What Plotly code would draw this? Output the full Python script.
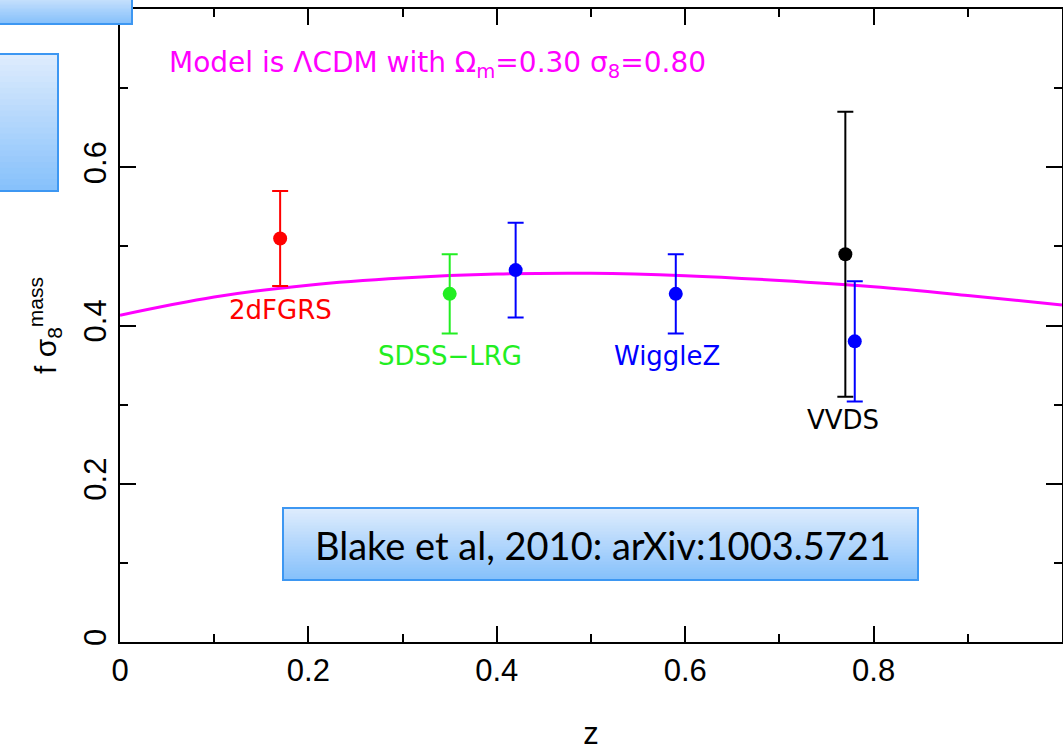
import plotly.graph_objects as go

# Growth-rate measurements f*sigma8 vs redshift
tdf_z = [0.17]
tdf_fs8 = [0.51]
tdf_err = [0.06]

sdss_z = [0.35]
sdss_fs8 = [0.44]
sdss_err = [0.05]

wigglez_z = [0.42, 0.59, 0.78]
wigglez_fs8 = [0.47, 0.44, 0.38]
wigglez_err = [0.06, 0.05, 0.076]

vvds_z = [0.77]
vvds_fs8 = [0.49]
vvds_err = [0.18]

# LCDM model curve (Omega_m = 0.30, sigma8 = 0.80)
model_z = [0.0, 0.1, 0.2, 0.3, 0.4, 0.5, 0.6, 0.7, 0.8, 0.9, 1.0]
model_fs8 = [0.413, 0.436, 0.451, 0.460, 0.465, 0.466, 0.463, 0.457, 0.449, 0.438, 0.426]

x_ticks = [0, 0.2, 0.4, 0.6, 0.8]
y_ticks = [0, 0.2, 0.4, 0.6, 0.8]

TICK_FONT = "Liberation Sans"
LABEL_FONT = "DejaVu Sans"

fig = go.Figure()

fig.add_trace(go.Scatter(
    x=model_z, y=model_fs8, mode="lines",
    line=dict(color="#ff00ff", width=3, shape="spline"),
    showlegend=False, hoverinfo="skip",
))


def add_points(z, fs8, err, color):
    fig.add_trace(go.Scatter(
        x=z, y=fs8, mode="markers",
        marker=dict(color=color, size=14),
        error_y=dict(type="data", array=err, visible=True,
                     color=color, thickness=2, width=8),
        showlegend=False,
    ))


add_points(tdf_z, tdf_fs8, tdf_err, "#ff0000")
add_points(sdss_z, sdss_fs8, sdss_err, "#22ee22")
add_points(vvds_z, vvds_fs8, vvds_err, "#000000")
add_points(wigglez_z, wigglez_fs8, wigglez_err, "#0000ff")

# survey labels
labels = [
    ("2dFGRS", 0.17, 0.42, "#ff0000"),
    ("SDSS\u2212LRG", 0.35, 0.361, "#22ee22"),
    ("WiggleZ", 0.581, 0.361, "#0000ff"),
    ("VVDS", 0.767, 0.281, "#000000"),
]
for text, lx, ly, col in labels:
    fig.add_annotation(x=lx, y=ly, text=text, showarrow=False,
                       font=dict(family=LABEL_FONT, size=26, color=col),
                       xanchor="center", yanchor="middle")

fig.add_annotation(
    x=0.05, y=0.730, xanchor="left", yanchor="middle", showarrow=False,
    text="Model is \u039bCDM with \u03a9<sub>m</sub>=0.30 \u03c3<sub>8</sub>=0.80",
    font=dict(family=LABEL_FONT, size=28, color="#ff00ff"),
)


def gradient_box(x0, y0, x1, y1, steps=24):
    """Light-blue box with a vertical gradient, in pixel coordinates."""
    top = (222, 236, 253)
    bot = (135, 193, 251)
    for i in range(steps):
        t = i / (steps - 1)
        c = tuple(int(round(top[k] + (bot[k] - top[k]) * t)) for k in range(3))
        ya = y0 + (y1 - y0) * i / steps
        yb = y0 + (y1 - y0) * (i + 1) / steps
        fig.add_shape(type="rect", xref="paper", yref="paper", layer="above",
                      x0=(x0 - 120) / 942, x1=(x1 - 120) / 942,
                      y0=(642 - yb - 0.5) / 633, y1=(642 - ya + 0.5) / 633,
                      fillcolor="rgb(%d,%d,%d)" % c, line=dict(width=0))
    fig.add_shape(type="rect", xref="paper", yref="paper", layer="above",
                  x0=(x0 - 120) / 942, x1=(x1 - 120) / 942,
                  y0=(642 - y1) / 633, y1=(642 - y0) / 633,
                  fillcolor="rgba(0,0,0,0)", line=dict(color="#3d97f2", width=2))


gradient_box(-10, -10, 132, 24)
gradient_box(-10, 54, 58, 191)
gradient_box(283, 508, 918, 580)

fig.add_annotation(
    xref="paper", yref="paper",
    x=(603 - 120) / 942, y=(642 - 545) / 633,
    text="Blake et al, 2010: arXiv:1003.5721", showarrow=False,
    xanchor="center", yanchor="middle",
    font=dict(family="Lato", size=38, color="#000000"),
)

axis_common = dict(
    showline=True, linecolor="black", linewidth=2, mirror="ticks",
    ticks="inside", ticklen=16, tickwidth=2, tickcolor="black",
    showgrid=False, zeroline=False, ticklabeloverflow="allow", automargin=False,
    tickfont=dict(family=TICK_FONT, size=31, color="black"),
    minor=dict(ticks="inside", ticklen=8, tickwidth=2, tickcolor="black", dtick=0.1),
)

fig.update_xaxes(
    range=[0, 1], tickvals=x_ticks, ticktext=["0", "0.2", "0.4", "0.6", "0.8"],
    title=dict(text="z", font=dict(family=TICK_FONT, size=31, color="black"), standoff=45),
    **axis_common,
)
fig.update_yaxes(
    range=[0, 0.8], tickvals=y_ticks, ticktext=["0", "0.2", "0.4", "0.6", "0.8"],
    tickangle=-90,
    title=dict(text="f \u03c3<sub>8</sub><sup>mass</sup>",
               font=dict(family=TICK_FONT, size=30, color="black"), standoff=12),
    **axis_common,
)

fig.update_layout(
    width=1063, height=751,
    margin=dict(l=120, r=1, t=9, b=109),
    paper_bgcolor="white", plot_bgcolor="white",
)

fig.write_html("out.html")
